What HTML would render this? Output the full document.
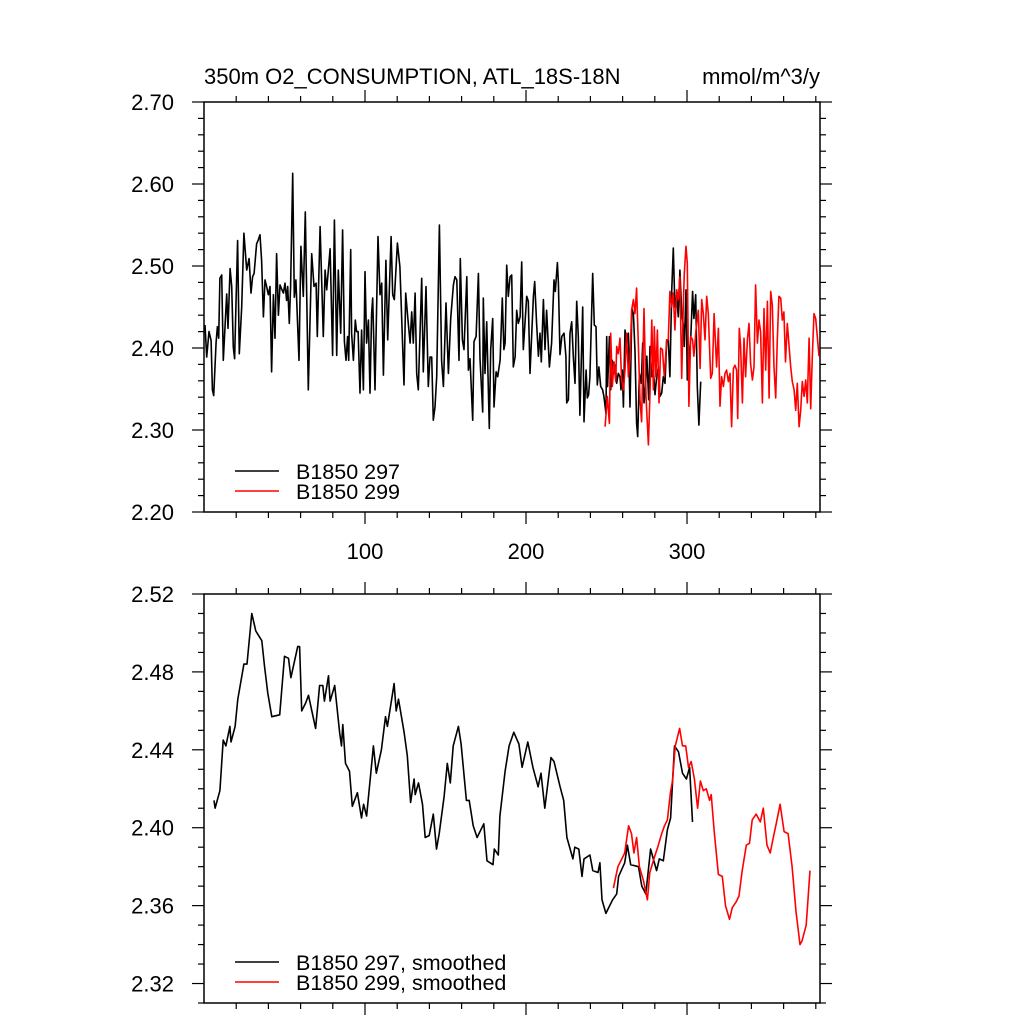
<!DOCTYPE html>
<html><head><meta charset="utf-8"><style>
html,body{margin:0;padding:0;background:#fff;}
svg{display:block;font-family:"Liberation Sans",sans-serif;}
</style></head><body>
<svg id="chart" width="1024" height="1024" viewBox="0 0 1024 1024" xmlns="http://www.w3.org/2000/svg">
<rect x="0" y="0" width="1024" height="1024" fill="#fff"/>
<text x="204" y="84" font-size="22">350m O2_CONSUMPTION, ATL_18S-18N</text>
<text x="820" y="84" font-size="22" text-anchor="end">mmol/m^3/y</text>
<g id="top"></g>
<g id="bot"></g>
</svg>
<script>
// ---- data: raw annual series (year, value) ----
const rawBlackYears=[0.6,1.7,3.1,4.4,5.2,6.0,7.5,8.3,9.1,9.9,11.0,12.0,14.1,14.9,16.2,17.2,18.2,19.0,20.9,21.9,23.4,24.8,26.5,28.0,29.2,30.2,31.1,32.7,33.7,34.8,35.8,36.9,37.9,38.9,40.0,41.0,42.0,43.1,44.1,45.1,46.2,47.2,48.2,49.3,50.3,51.3,52.0,53.0,53.8,55.1,56.1,57.1,59.0,60.2,61.7,62.9,64.8,66.9,68.3,69.6,70.4,72.1,74.1,75.2,76.2,78.3,79.9,81.0,82.4,83.4,84.9,86.1,87.2,88.2,89.2,89.9,91.1,91.7,92.8,94.0,94.8,95.7,96.9,97.9,99.0,100.0,101.0,102.1,103.1,104.1,104.8,106.2,108.1,109.3,110.4,111.4,113.0,114.1,116.2,117.2,118.2,120.1,121.7,124.2,125.3,126.5,128.0,129.0,130.0,131.1,132.1,133.1,135.2,136.2,137.9,139.3,140.4,141.4,142.4,143.5,144.5,146.2,147.6,148.7,150.3,151.8,153.2,154.9,155.9,157.0,158.4,159.2,160.5,161.5,163.2,164.2,165.2,166.9,167.7,169.0,170.4,171.4,173.1,173.5,174.5,175.6,177.2,178.1,179.3,180.1,181.4,182.4,183.9,185.3,186.3,187.0,188.0,189.0,190.1,191.1,192.1,193.2,194.2,195.2,196.3,197.3,198.3,200.4,201.4,202.5,204.6,205.4,206.6,207.7,208.7,209.5,210.8,211.8,212.8,214.5,215.9,217.4,218.2,219.5,220.1,221.1,222.2,223.6,224.8,225.3,226.3,227.3,228.4,229.4,230.4,231.5,232.5,233.5,235.2,236.0,237.3,238.1,238.9,239.7,241.4,242.4,243.5,244.3,245.3,246.4,247.6,248.4,249.7,250.1,250.7,251.8,252.6,253.6,254.7,255.5,256.3,257.3,258.4,259.0,259.8,260.5,261.5,262.5,263.6,264.6,265.8,266.7,267.7,268.7,269.4,270.4,271.6,272.5,273.3,274.3,275.0,276.2,277.0,278.1,279.1,280.1,281.2,282.2,283.2,284.3,285.3,286.3,287.4,288.4,289.4,290.5,291.5,292.5,293.6,294.6,295.6,296.7,297.7,298.3,299.4,300.2,301.2,302.3,303.5,304.3,305.4,306.4,307.4,308.5];
const rawBlackValues=[2.428,2.389,2.420,2.409,2.349,2.342,2.407,2.426,2.412,2.485,2.489,2.385,2.466,2.424,2.497,2.475,2.401,2.387,2.531,2.393,2.450,2.540,2.495,2.509,2.467,2.487,2.491,2.527,2.532,2.538,2.507,2.438,2.483,2.475,2.465,2.475,2.371,2.465,2.412,2.515,2.440,2.477,2.472,2.467,2.479,2.458,2.475,2.430,2.475,2.613,2.462,2.483,2.385,2.524,2.463,2.566,2.349,2.515,2.475,2.479,2.414,2.548,2.414,2.495,2.471,2.521,2.391,2.556,2.391,2.495,2.418,2.544,2.408,2.385,2.414,2.385,2.520,2.418,2.385,2.434,2.420,2.420,2.345,2.422,2.349,2.493,2.406,2.434,2.345,2.442,2.461,2.349,2.536,2.465,2.479,2.367,2.507,2.410,2.536,2.465,2.459,2.528,2.499,2.355,2.467,2.438,2.406,2.444,2.406,2.467,2.369,2.349,2.485,2.371,2.475,2.353,2.389,2.389,2.312,2.328,2.365,2.550,2.385,2.353,2.455,2.369,2.436,2.477,2.487,2.483,2.385,2.509,2.410,2.398,2.487,2.373,2.387,2.312,2.408,2.414,2.491,2.387,2.322,2.461,2.369,2.432,2.302,2.398,2.436,2.328,2.371,2.365,2.385,2.461,2.398,2.406,2.501,2.463,2.487,2.489,2.377,2.389,2.446,2.430,2.438,2.505,2.398,2.463,2.457,2.369,2.463,2.481,2.430,2.390,2.418,2.383,2.459,2.398,2.446,2.377,2.406,2.483,2.469,2.504,2.479,2.392,2.414,2.418,2.390,2.333,2.337,2.418,2.432,2.390,2.357,2.457,2.414,2.318,2.450,2.310,2.373,2.339,2.343,2.365,2.491,2.428,2.426,2.355,2.377,2.353,2.349,2.341,2.320,2.414,2.353,2.414,2.349,2.385,2.369,2.379,2.357,2.369,2.365,2.349,2.373,2.328,2.422,2.404,2.418,2.328,2.448,2.442,2.396,2.308,2.292,2.369,2.357,2.406,2.333,2.353,2.390,2.337,2.402,2.365,2.375,2.343,2.365,2.377,2.341,2.345,2.365,2.357,2.410,2.410,2.365,2.469,2.522,2.450,2.463,2.438,2.495,2.442,2.428,2.402,2.471,2.361,2.390,2.410,2.469,2.436,2.465,2.353,2.306,2.359];
const rawRedYears=[249.1,250.5,251.8,252.6,253.6,254.7,255.7,256.3,257.3,258.4,259.4,260.5,261.5,262.5,263.6,264.6,265.6,266.7,267.7,268.7,269.8,270.8,271.8,273.3,274.5,276.0,277.0,278.1,279.1,279.7,280.7,281.6,282.6,283.6,284.7,285.9,287.4,288.4,289.4,290.5,291.5,292.5,293.6,294.6,295.6,296.7,297.7,298.3,299.4,300.2,301.2,302.3,303.5,304.3,305.6,307.0,308.1,309.1,310.1,311.2,312.2,313.2,314.7,315.7,316.8,318.4,319.5,320.5,321.5,322.6,323.6,324.6,325.7,326.7,327.7,328.8,329.8,330.8,331.5,332.5,333.3,334.4,335.4,336.4,337.5,338.5,339.5,340.6,341.6,342.6,343.7,344.7,345.7,346.8,347.8,348.9,349.9,351.0,352.0,353.0,354.0,355.1,356.1,357.1,358.2,359.2,360.2,361.2,362.3,363.4,364.4,365.4,366.5,367.5,368.5,369.6,370.6,371.6,372.7,373.7,374.7,375.8,376.8,377.8,378.9,379.9,380.9,382.0];
const rawRedValues=[2.304,2.341,2.308,2.418,2.353,2.383,2.359,2.402,2.393,2.412,2.361,2.349,2.373,2.418,2.365,2.385,2.446,2.459,2.442,2.473,2.402,2.337,2.310,2.448,2.341,2.282,2.345,2.434,2.349,2.426,2.365,2.422,2.333,2.400,2.398,2.365,2.410,2.410,2.469,2.450,2.467,2.422,2.471,2.459,2.487,2.363,2.452,2.491,2.524,2.503,2.329,2.414,2.410,2.390,2.422,2.446,2.375,2.459,2.442,2.410,2.463,2.442,2.363,2.369,2.442,2.377,2.424,2.329,2.365,2.353,2.369,2.373,2.359,2.369,2.304,2.375,2.379,2.373,2.314,2.424,2.402,2.333,2.412,2.365,2.410,2.430,2.381,2.361,2.377,2.477,2.406,2.434,2.420,2.333,2.448,2.373,2.457,2.339,2.469,2.452,2.377,2.339,2.410,2.463,2.461,2.434,2.444,2.383,2.430,2.402,2.377,2.359,2.349,2.324,2.357,2.304,2.324,2.359,2.341,2.361,2.333,2.412,2.326,2.389,2.442,2.436,2.414,2.390];
// ---- data: smoothed series ----
const smBlackYears=[6.2,6.9,9.9,11.9,13.6,16.1,16.8,19.3,21.0,24.8,26.7,29.7,32.2,35.9,37.6,39.6,42.1,47.0,50.0,52.5,54.0,58.2,59.4,60.7,63.1,64.9,69.3,71.8,73.8,74.8,77.3,78.3,81.2,84.2,85.4,86.2,87.9,90.4,92.1,95.3,97.8,99.1,101.0,103.5,105.2,107.0,110.2,112.7,113.9,118.1,119.4,120.8,124.3,126.3,128.3,130.5,131.2,133.2,135.7,137.4,139.9,142.4,144.4,146.1,149.1,151.1,153.0,154.8,158.0,159.7,163.0,164.7,167.2,169.6,173.8,175.8,179.5,180.3,182.8,183.8,187.0,189.5,192.4,195.6,197.6,201.1,204.3,207.5,209.3,211.7,215.5,217.4,221.2,223.4,225.4,229.1,230.3,232.8,234.8,236.0,239.7,241.5,244.7,245.9,247.2,249.6,253.8,256.3,257.5,261.3,263.0,265.0,269.9,271.9,274.4,277.4,281.1,282.8,285.3,287.8,289.8,292.2,294.7,297.2,299.6,301.6,303.4];
const smBlackValues=[2.414,2.410,2.419,2.445,2.442,2.452,2.444,2.452,2.466,2.484,2.484,2.510,2.501,2.496,2.483,2.469,2.457,2.458,2.488,2.487,2.477,2.493,2.493,2.460,2.464,2.468,2.451,2.473,2.473,2.465,2.478,2.465,2.473,2.449,2.442,2.453,2.433,2.429,2.411,2.418,2.405,2.412,2.406,2.427,2.442,2.428,2.440,2.457,2.452,2.474,2.460,2.466,2.449,2.437,2.413,2.425,2.417,2.423,2.412,2.395,2.396,2.407,2.389,2.397,2.416,2.433,2.423,2.442,2.452,2.443,2.414,2.414,2.401,2.395,2.402,2.383,2.381,2.389,2.386,2.406,2.429,2.442,2.449,2.443,2.431,2.444,2.431,2.421,2.428,2.410,2.436,2.434,2.421,2.414,2.395,2.384,2.390,2.389,2.375,2.384,2.386,2.378,2.377,2.382,2.363,2.356,2.363,2.366,2.375,2.382,2.391,2.381,2.380,2.370,2.366,2.389,2.378,2.384,2.383,2.399,2.405,2.442,2.439,2.428,2.425,2.431,2.403];
const smRedYears=[254.3,257.1,259.5,261.3,263.7,265.5,267.0,268.7,270.4,272.9,275.4,276.9,279.8,281.8,284.3,286.0,287.8,289.7,291.0,292.7,295.4,297.2,299.2,300.9,302.6,304.6,306.6,308.3,310.1,312.0,314.0,315.0,317.0,319.5,321.9,323.9,326.4,328.1,330.6,332.3,334.3,336.8,338.8,340.5,343.0,345.5,347.4,349.7,351.7,353.6,355.4,357.8,360.3,362.8,365.3,367.7,370.2,371.5,374.0,376.4];
const smRedValues=[2.369,2.380,2.384,2.387,2.401,2.397,2.387,2.395,2.380,2.373,2.363,2.377,2.385,2.390,2.397,2.401,2.404,2.418,2.424,2.442,2.451,2.442,2.442,2.431,2.434,2.425,2.410,2.424,2.419,2.420,2.414,2.417,2.397,2.376,2.375,2.360,2.353,2.359,2.362,2.365,2.378,2.391,2.392,2.404,2.407,2.403,2.410,2.391,2.387,2.395,2.402,2.412,2.398,2.397,2.380,2.357,2.340,2.342,2.350,2.378];
const topYTicks=["2.20","2.30","2.40","2.50","2.60","2.70"];
const botYTicks=["2.32","2.36","2.40","2.44","2.48","2.52"];
const xTickLabels=["100","200","300"];
const legendTop=["B1850 297","B1850 299"];
const legendBot=["B1850 297, smoothed","B1850 299, smoothed"];

const NS="http://www.w3.org/2000/svg";
const X0=204,X1=820,XMIN=0,XMAX=382.6;
function sx(v){return X0+(v-XMIN)/(XMAX-XMIN)*(X1-X0);}
function mk(tag,attrs,parent){const e=document.createElementNS(NS,tag);for(const k in attrs)e.setAttribute(k,attrs[k]);parent.appendChild(e);return e;}

function panel(g,T,B,ymin,ymax,minorStep,ticks,xLabels){
  const sy=v=>B-(v-ymin)/(ymax-ymin)*(B-T);
  const frame=mk('rect',{x:X0,y:T,width:X1-X0,height:B-T,fill:'none',stroke:'#000','stroke-width':1.5},g);
  
  
  const n=Math.round((ymax-ymin)/minorStep);
  for(let i=0;i<=n;i++){
    const v=ymin+i*minorStep,y=sy(v);
    const isMaj=ticks.some(t=>Math.abs(parseFloat(t)-v)<1e-6);
    const L=isMaj?12:6;
    const t1=mk('line',{x1:X0-L,x2:X0,y1:y,y2:y,stroke:'#000','stroke-width':1.2},g);
    
    
    const t2=mk('line',{x1:X1,x2:X1+L,y1:y,y2:y,stroke:'#000','stroke-width':1.2},g);
    
    
  }
  ticks.forEach(t=>{
    const tx=mk('text',{x:174,y:sy(parseFloat(t))+8,'font-size':22,'text-anchor':'end'},g);
    tx.textContent=t;
    
    
  });
  for(let yr=20;yr<XMAX;yr+=20){
    const x=sx(yr),maj=yr%100===0,L=maj?12:6;
    const b=mk('line',{x1:x,x2:x,y1:B,y2:B+L,stroke:'#000','stroke-width':1.2},g);
    
    
    const t=mk('line',{x1:x,x2:x,y1:T-L,y2:T,stroke:'#000','stroke-width':1.2},g);
    
    
  }
  if(xLabels){xLabels.forEach(l=>{
    const tx=mk('text',{x:sx(parseFloat(l)),y:B+47,'font-size':22,'text-anchor':'middle'},g);
    tx.textContent=l;
    
    
  });}
  return sy;
}
function series(g,sy,xs,ys,color,name){
  let d='';for(let i=0;i<xs.length;i++)d+=(i?'L':'M')+sx(xs[i]).toFixed(1)+','+sy(ys[i]).toFixed(1);
  const p=mk('path',{d:d,fill:'none',stroke:color,'stroke-width':1.6,'stroke-linejoin':'round'},g);
  
  
}
function legend(g,labels,y0){
  const cols=['#000','#f00'];
  labels.forEach((l,i)=>{
    const y=y0+i*20;
    const ln=mk('line',{x1:235,x2:279,y1:y,y2:y,stroke:cols[i],'stroke-width':1.6},g);
    
    
    const tx=mk('text',{x:296,y:y+8,'font-size':21.5},g);
    tx.textContent=l;
    
    
  });
}
const gt=document.getElementById('top'),gb=document.getElementById('bot');
const syT=panel(gt,102,512,2.20,2.70,0.02,topYTicks,xTickLabels);
series(gt,syT,rawBlackYears,rawBlackValues,'#000','series-b1850-297');
series(gt,syT,rawRedYears,rawRedValues,'#f00','series-b1850-299');
legend(gt,legendTop,471);
const syB=panel(gb,594,1003,2.31,2.52,0.01,botYTicks,null);
series(gb,syB,smBlackYears,smBlackValues,'#000','series-b1850-297-smoothed');
series(gb,syB,smRedYears,smRedValues,'#f00','series-b1850-299-smoothed');
legend(gb,legendBot,962);
</script>
</body></html>
